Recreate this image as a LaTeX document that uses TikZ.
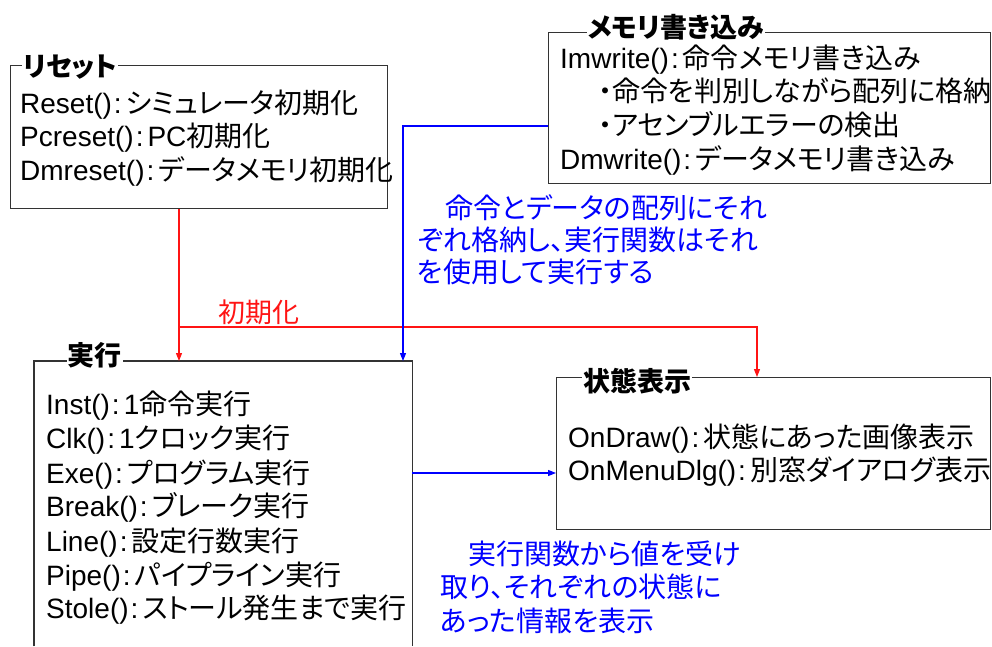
\documentclass[tikz,border=0pt]{standalone}
\usepackage{fontspec}
\setmainfont{Liberation Sans}
\newfontfamily\jp{Noto Sans CJK JP}[RawFeature=+palt]
\usetikzlibrary{arrows.meta}
\definecolor{linered}{RGB}{255,20,20}
\definecolor{lineblue}{RGB}{0,0,255}
\newcommand\jt[1]{{\jp #1}}
\newcommand\csep{\hspace{2pt}:\hspace{4pt}}
\begin{document}
\begin{tikzpicture}[x=1pt,y=-1pt,
  boxline/.style={draw=black!80, line width=1.1pt},
  frame/.style={boxline, rectangle, inner sep=0pt, anchor=north west},
  ttl/.style={fill=white, inner sep=1pt, font=\fontsize{27}{27}\selectfont\jp\bfseries},
  body/.style={anchor=base west, inner sep=0pt, font=\fontsize{28}{30}\selectfont},
  note/.style={anchor=base west, inner sep=0pt, text=lineblue, font=\fontsize{28}{30}\selectfont\jp},
  tip/.style={-{Triangle[length=8pt,width=6pt]}},
  redline/.style={draw=linered, line width=1.1pt},
  blueline/.style={draw=lineblue, line width=1.1pt}
]
\useasboundingbox (0,0) rectangle (992,646);

% boxes
\node[frame, minimum width=377pt, minimum height=143pt] (reset) at (10,65) {};
\node[frame, minimum width=442pt, minimum height=151pt] (mem) at (548,32) {};
\node[anchor=north west, inner sep=0pt, minimum width=378pt, minimum height=285pt] (exec) at (34,361) {};
\draw[boxline] (exec.south west) -- (exec.north west) -- (exec.north east) -- (exec.south east);
\node[frame, minimum width=434pt, minimum height=152pt] (state) at (556,377) {};

% titles
\node[ttl] (t1) at (70,67.5) {リセット};
\node[ttl] (t2) at (676,27) {メモリ書き込み};
\node[ttl] (t3) at (94.5,355.5) {実行};
\node[ttl] (t4) at (637,381) {状態表示};

% reset body
\node[body] (r1) at (20,113) {Reset()\csep\jt{シミュレータ初期化}};
\node[body] (r2) at (20,146) {Pcreset()\csep PC\jt{初期化}};
\node[body] (r3) at (20,180) {Dmreset()\csep\jt{データメモリ初期化}};

% memory body
\node[body] (m1) at (560,68) {Imwrite()\csep\jt{命令メモリ書き込み}};
\node[body] (m2) at (598,101) {\jt{・命令を判別しながら配列に格納}};
\node[body] (m3) at (598,135) {\jt{・アセンブルエラーの検出}};
\node[body] (m4) at (560,169) {Dmwrite()\csep\jt{データメモリ書き込み}};

% exec body
\node[body] (e1) at (46,414) {Inst()\csep 1\jt{命令実行}};
\node[body] (e2) at (46,448) {Clk()\csep 1\jt{クロック実行}};
\node[body] (e3) at (46,483) {Exe()\csep\jt{プログラム実行}};
\node[body] (e4) at (46,516) {Break()\csep\jt{ブレーク実行}};
\node[body] (e5) at (46,551) {Line()\csep\jt{設定行数実行}};
\node[body] (e6) at (46,585) {Pipe()\csep\jt{パイプライン実行}};
\node[body] (e7) at (46,618) {Stole()\csep\jt{ストール発生まで実行}};

% state body
\node[body] (s1) at (568,447) {OnDraw()\csep\jt{状態にあった画像表示}};
\node[body] (s2) at (568,480) {OnMenuDlg()\csep\jt{別窓ダイアログ表示}};

% notes
\node[note] (n1a) at (417,218) {　命令とデータの配列にそれ};
\node[note] (n1b) at (417,250) {ぞれ格納し、実行関数はそれ};
\node[note] (n1c) at (417,282) {を使用して実行する};
\node[note] (n2a) at (440,564) {　実行関数から値を受け};
\node[note] (n2b) at (440,597) {取り、それぞれの状態に};
\node[note] (n2c) at (440,631) {あった情報を表示};

% red connectors
\coordinate (j1) at (179,327);
\coordinate (j2) at (757,327);
\draw[redline, tip] (reset.south -| j1) -- (exec.north -| j1);
\draw[redline, tip] (j1) -- (j2) -- (state.north -| j2);
\node[anchor=base west, inner sep=0pt, text=linered, font=\fontsize{27}{30}\selectfont\jp] (lbl) at (218,322) {初期化};

% blue connectors
\coordinate (b1) at (403,126);
\coordinate (b2) at (480,473);
\draw[blueline, tip] (mem.west |- b1) -- (b1) -- (exec.north -| b1);
\draw[blueline, tip] (exec.east |- b2) -- (state.west |- b2);
\end{tikzpicture}
\end{document}
